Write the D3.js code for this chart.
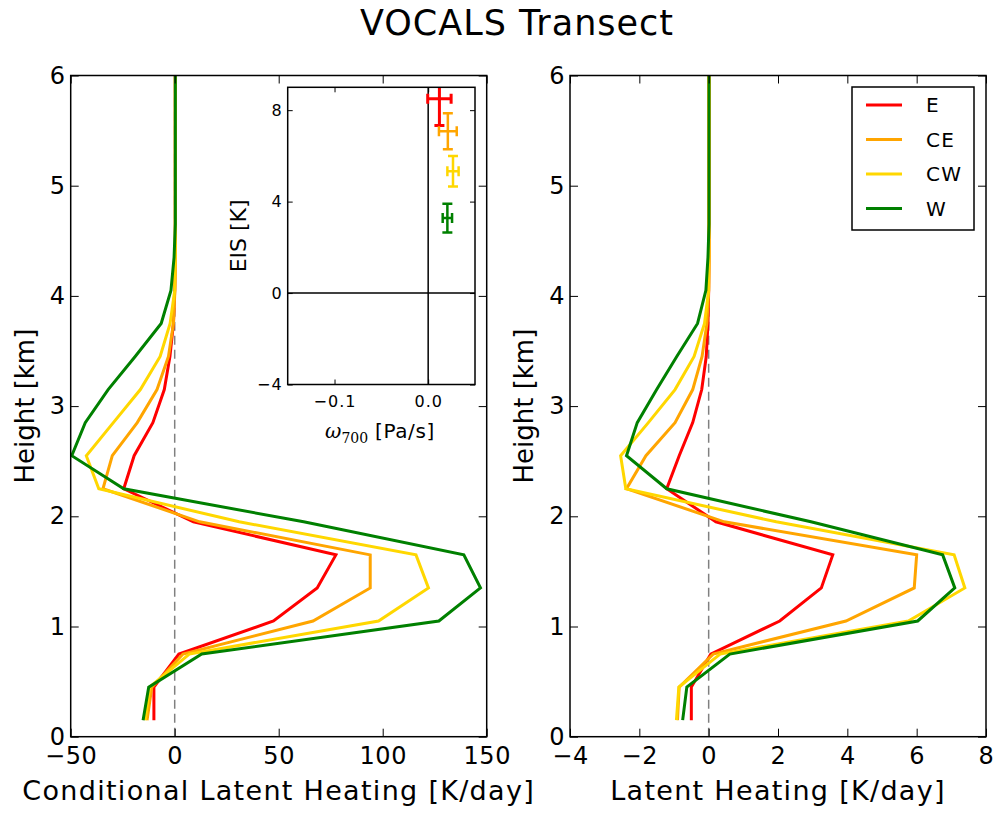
<!DOCTYPE html>
<html>
<head>
<meta charset="utf-8">
<script src="https://cdn.jsdelivr.net/npm/d3@7"></script>
<style>
body { margin: 0; background: #fff; }
text { font-family: "DejaVu Sans", sans-serif; fill: #000; }
</style>
</head>
<body>
<svg></svg>
<script>
let WIDTH = 1000;
let HEIGHT = 814;

// model levels [km]
let heights = [0.15, 0.45, 0.75, 1.05, 1.35, 1.65, 1.95, 2.25, 2.55, 2.85, 3.15, 3.45, 3.75, 4.05, 4.35, 4.65, 4.95, 5.25, 5.55, 5.85, 6.15];

let regions = ['E', 'CE', 'CW', 'W'];
let colors = ['#ff0000', '#ffa500', '#ffd700', '#008000'];

// conditional latent heating [K/day]
let condE  = [-10, -10, 2, 47.5, 68.5, 77.5, 9, -24.5, -19.5, -10.5, -5, -2.3, -0.6, 0, 0.3, 0.3, 0.3, 0.3, 0.3, 0.3, 0.3];
let condCE = [-13.3, -11, 4, 66.5, 94, 94, 12, -34.5, -30, -18, -8.5, -3, -0.6, 0.1, 0.3, 0.3, 0.3, 0.3, 0.3, 0.3, 0.3];
let condCW = [-14.2, -12, 7, 98, 122, 116, 31, -36.5, -42.5, -29.5, -16.5, -7, -2.2, 0, 0.3, 0.3, 0.3, 0.3, 0.3, 0.3, 0.3];
let condW  = [-15.2, -12.5, 13, 127, 147, 139, 62, -24.5, -49.5, -43, -32, -19, -6.5, -1.8, -0.3, 0.3, 0.3, 0.3, 0.3, 0.3, 0.3];

// latent heating [K/day]
let lhE  = [-0.5, -0.5, 0.06, 2.05, 3.25, 3.58, 0.21, -1.21, -0.85, -0.46, -0.2, -0.07, -0.02, 0, 0.01, 0.01, 0.01, 0.01, 0.01, 0.01, 0.01];
let lhCE = [-0.9, -0.85, 0.13, 3.96, 5.93, 6.0, 0.45, -2.37, -1.81, -0.97, -0.46, -0.19, -0.05, 0, 0.01, 0.01, 0.01, 0.01, 0.01, 0.01, 0.01];
let lhCW = [-0.93, -0.86, 0.33, 5.76, 7.39, 7.08, 1.95, -2.39, -2.54, -1.74, -0.97, -0.42, -0.12, 0, 0.01, 0.01, 0.01, 0.01, 0.01, 0.01, 0.01];
let lhW  = [-0.75, -0.63, 0.61, 6.03, 7.1, 6.75, 2.95, -1.21, -2.37, -2.06, -1.5, -0.92, -0.32, -0.08, -0.02, 0.01, 0.01, 0.01, 0.01, 0.01, 0.01];

// inset: mean omega700 / EIS with errors
let omega    = [0.012, 0.021, 0.0265, 0.0205];
let omegaErr = [0.0125, 0.0095, 0.006, 0.005];
let eis      = [8.5, 7.08, 5.33, 3.28];
let eisErr   = [1.17, 0.79, 0.67, 0.63];

let leftTicks = [-50, 0, 50, 100, 150];
let rightTicks = [-4, -2, 0, 2, 4, 6, 8];
let heightTicks = [0, 1, 2, 3, 4, 5, 6];
let omegaTicks = [-0.1, 0];
let eisTicks = [-4, 0, 4, 8];

let svg = d3.select('svg')
    .attr('width', WIDTH)
    .attr('height', HEIGHT);

let plotTop = 75.5, plotBottom = 736.7;

svg.append('text')
    .attr('x', 517)
    .attr('y', 35)
    .attr('text-anchor', 'middle')
    .style('font-size', '35px')
    .style('letter-spacing', '1px')
    .text('VOCALS Transect');

drawPanel({
    id: 'left', x0: 70.7, x1: 486.7, domain: [-50, 150], ticks: leftTicks,
    series: [condE, condCE, condCW, condW],
    xlabel: 'Conditional Latent Heating [K/day]'
});
drawPanel({
    id: 'right', x0: 570, x1: 986, domain: [-4, 8], ticks: rightTicks,
    series: [lhE, lhCE, lhCW, lhW],
    xlabel: 'Latent Heating [K/day]'
});
drawInset();
drawLegend();

// one profile panel
function drawPanel(p){
    let x = d3.scaleLinear().domain(p.domain).range([p.x0, p.x1]);
    let y = d3.scaleLinear().domain([0, 6]).range([plotBottom, plotTop]);
    let g = svg.append('g');

    g.append('clipPath')
        .attr('id', `clip-${p.id}`)
        .append('rect')
            .attr('x', p.x0).attr('y', plotTop)
            .attr('width', p.x1 - p.x0).attr('height', plotBottom - plotTop);

    // zero line
    g.append('line')
        .attr('x1', x(0)).attr('x2', x(0))
        .attr('y1', y(0)).attr('y2', y(6))
        .attr('stroke', '#808080')
        .attr('stroke-width', 1.5)
        .attr('stroke-dasharray', '9,5');

    let line = d3.line()
        .x((d) => x(d[0]))
        .y((d) => y(d[1]));

    g.append('g')
        .attr('clip-path', `url(#clip-${p.id})`)
        .selectAll('path')
        .data(p.series)
        .enter()
        .append('path')
            .attr('d', (s) => line(s.map((v, i) => [v, heights[i]])))
            .attr('fill', 'none')
            .attr('stroke', (s, i) => colors[i])
            .attr('stroke-width', 3)
            .attr('stroke-linejoin', 'miter');

    addAxes(g, x, y, {xt: p.ticks, yt: heightTicks, len: 8, fs: '24px', ls: '0.6px', padX: 10, padY: 5});

    g.append('rect')
        .attr('x', p.x0).attr('y', plotTop)
        .attr('width', p.x1 - p.x0).attr('height', plotBottom - plotTop)
        .attr('fill', 'none').attr('stroke', '#000').attr('stroke-width', 1.5);

    g.append('text')
        .attr('x', (p.x0 + p.x1) / 2)
        .attr('y', 800)
        .attr('text-anchor', 'middle')
        .style('font-size', '27px')
        .style('letter-spacing', '1.3px')
        .text(p.xlabel);

    g.append('text')
        .attr('transform', `translate(${p.x0 - 37},${(plotTop + plotBottom) / 2}) rotate(-90)`)
        .attr('text-anchor', 'middle')
        .style('font-size', '26px')
        .text('Height [km]');
}

// inward ticks on all four sides, labels bottom / left
function addAxes(g, x, y, o){
    let [xa, xb] = x.range();
    let [ya, yb] = y.range();
    g.append('g')
        .attr('transform', `translate(0,${ya})`)
        .call(d3.axisBottom(x).tickValues(o.xt).tickFormat(o.xfmt || d3.format('d')).tickSizeInner(-o.len).tickSizeOuter(0).tickPadding(o.padX))
        .call(styleAxis, o);
    g.append('g')
        .attr('transform', `translate(0,${yb})`)
        .call(d3.axisTop(x).tickValues(o.xt).tickFormat('').tickSizeInner(-o.len).tickSizeOuter(0))
        .call(styleAxis, o);
    g.append('g')
        .attr('transform', `translate(${xa},0)`)
        .call(d3.axisLeft(y).tickValues(o.yt).tickFormat(d3.format('d')).tickSizeInner(-o.len).tickSizeOuter(0).tickPadding(o.padY))
        .call(styleAxis, o);
    g.append('g')
        .attr('transform', `translate(${xb},0)`)
        .call(d3.axisRight(y).tickValues(o.yt).tickFormat('').tickSizeInner(-o.len).tickSizeOuter(0))
        .call(styleAxis, o);
}

function styleAxis(sel, o){
    sel.select('.domain').remove();
    sel.selectAll('line').attr('stroke', '#000').attr('stroke-width', 1);
    sel.selectAll('text')
        .style('font-size', o.fs)
        .style('letter-spacing', o.ls)
        .style('font-family', '"DejaVu Sans", sans-serif');
}

// omega / EIS inset
function drawInset(){
    let x0 = 287.7, x1 = 475, y0 = 87.3, y1 = 384.5;
    let x = d3.scaleLinear().domain([-0.15, 0.05]).range([x0, x1]);
    let y = d3.scaleLinear().domain([-4, 9]).range([y1, y0]);
    let g = svg.append('g');

    g.append('rect')
        .attr('x', x0).attr('y', y0)
        .attr('width', x1 - x0).attr('height', y1 - y0)
        .attr('fill', '#fff');

    g.append('clipPath')
        .attr('id', 'clip-inset')
        .append('rect')
            .attr('x', x0).attr('y', y0)
            .attr('width', x1 - x0).attr('height', y1 - y0);

    g.append('line')
        .attr('x1', x0).attr('x2', x1)
        .attr('y1', y(0)).attr('y2', y(0))
        .attr('stroke', '#000').attr('stroke-width', 1.5);
    g.append('line')
        .attr('x1', x(0)).attr('x2', x(0))
        .attr('y1', y0).attr('y2', y1)
        .attr('stroke', '#000').attr('stroke-width', 1.5);

    let bars = g.append('g')
        .attr('clip-path', 'url(#clip-inset)')
        .selectAll('g')
        .data(omega.map((o, i) => ({o: o, oe: omegaErr[i], e: eis[i], ee: eisErr[i], c: colors[i]})))
        .enter()
        .append('g')
            .attr('stroke', (d) => d.c)
            .attr('stroke-width', (d, i) => i === 0 ? 3 : 2.5);
    let cap = 5;
    bars.append('line')
        .attr('x1', (d) => x(d.o - d.oe)).attr('x2', (d) => x(d.o + d.oe))
        .attr('y1', (d) => y(d.e)).attr('y2', (d) => y(d.e));
    bars.append('line')
        .attr('x1', (d) => x(d.o)).attr('x2', (d) => x(d.o))
        .attr('y1', (d) => y(d.e - d.ee)).attr('y2', (d) => y(d.e + d.ee));
    for(const s of [-1, 1]){
        bars.append('line')
            .attr('x1', (d) => x(d.o + s * d.oe)).attr('x2', (d) => x(d.o + s * d.oe))
            .attr('y1', (d) => y(d.e) - cap).attr('y2', (d) => y(d.e) + cap);
        bars.append('line')
            .attr('x1', (d) => x(d.o) - cap).attr('x2', (d) => x(d.o) + cap)
            .attr('y1', (d) => y(d.e + s * d.ee)).attr('y2', (d) => y(d.e + s * d.ee));
    }

    addAxes(g, x, y, {xt: omegaTicks, yt: eisTicks, len: 5, fs: '16px', ls: '1px', padX: 11, padY: 5, xfmt: d3.format('.1f')});

    g.append('rect')
        .attr('x', x0).attr('y', y0)
        .attr('width', x1 - x0).attr('height', y1 - y0)
        .attr('fill', 'none').attr('stroke', '#000').attr('stroke-width', 1.5);

    let lab = g.append('text')
        .attr('x', 380)
        .attr('y', 438)
        .attr('text-anchor', 'middle')
        .style('font-size', '20px');
    lab.append('tspan')
        .style('font-family', '"DejaVu Serif", serif')
        .style('font-style', 'italic')
        .text('ω');
    lab.append('tspan')
        .attr('dy', 5)
        .style('font-family', '"DejaVu Serif", serif')
        .style('font-size', '14px')
        .text('700');
    lab.append('tspan')
        .attr('dy', -5)
        .style('letter-spacing', '0.6px')
        .text(' [Pa/s]');

    g.append('text')
        .attr('transform', `translate(246,${(y0 + y1) / 2}) rotate(-90)`)
        .attr('text-anchor', 'middle')
        .style('font-size', '22px')
        .text('EIS [K]');
}

// legend box, right panel
function drawLegend(){
    let g = svg.append('g').attr('transform', 'translate(852,87)');
    g.append('rect')
        .attr('width', 122).attr('height', 143)
        .attr('fill', '#fff')
        .attr('stroke', '#000').attr('stroke-width', 1.5);
    let item = g.selectAll('g')
        .data(regions)
        .enter()
        .append('g')
            .attr('transform', (d, i) => `translate(0,${18 + i * 34.5})`);
    item.append('line')
        .attr('x1', 14).attr('x2', 50)
        .attr('stroke', (d, i) => colors[i])
        .attr('stroke-width', 3);
    item.append('text')
        .attr('x', 74)
        .attr('y', 7)
        .style('font-size', '20px')
        .style('letter-spacing', '1.2px')
        .text((d) => d);
}
</script>
</body>
</html>
